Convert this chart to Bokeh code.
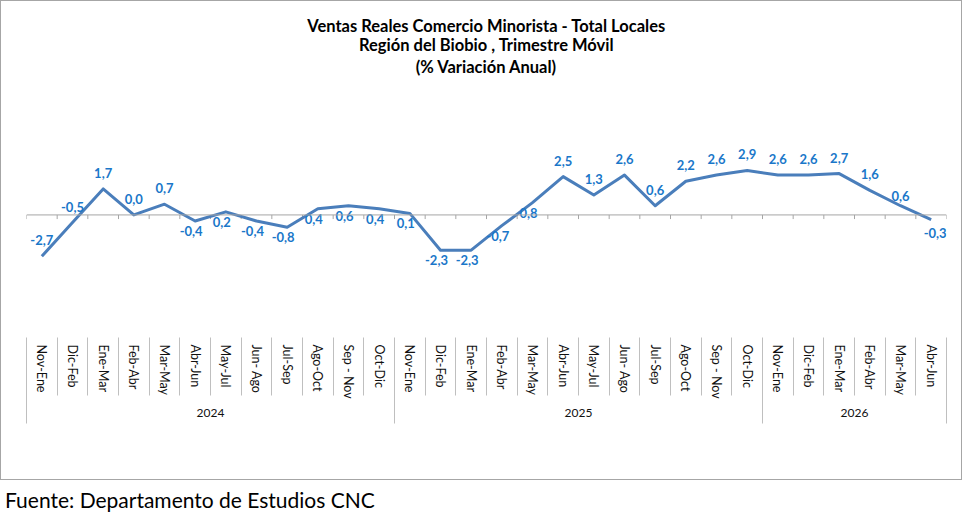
from bokeh.plotting import figure
from bokeh.models import Range1d, FixedTicker, LinearAxis, Title, Span, Div, ColumnDataSource
from bokeh.layouts import column
from bokeh.embed import file_html
from bokeh.resources import INLINE
from bokeh.core.properties import value

# ---- data ----
periods = ["Nov-Ene", "Dic-Feb", "Ene-Mar", "Feb-Abr", "Mar-May", "Abr-Jun", "May-Jul",
           "Jun- Ago", "Jul-Sep", "Ago-Oct", "Sep - Nov", "Oct-Dic",
           "Nov-Ene", "Dic-Feb", "Ene-Mar", "Feb-Abr", "Mar-May", "Abr-Jun", "May-Jul",
           "Jun- Ago", "Jul-Sep", "Ago-Oct", "Sep - Nov", "Oct-Dic",
           "Nov-Ene", "Dic-Feb", "Ene-Mar", "Feb-Abr", "Mar-May", "Abr-Jun"]
years = ["2024", "2025", "2026"]
year_counts = [12, 12, 6]
values = [-2.7, -0.5, 1.7, 0.0, 0.7, -0.4, 0.2, -0.4, -0.8, 0.4, 0.6, 0.4,
          0.1, -2.3, -2.3, -0.7, 0.8, 2.5, 1.3, 2.6, 0.6, 2.2, 2.6, 2.9,
          2.6, 2.6, 2.7, 1.6, 0.6, -0.3]
# label placement: a = above, c = close above, b = below, r = below right
label_pos = ["a", "a", "a", "a", "a", "b", "b", "b", "b", "b", "b", "b",
             "b", "b", "b", "b", "b", "a", "a", "a", "a", "a", "a", "a",
             "a", "a", "a", "a", "c", "r"]

title_lines = ["Ventas Reales Comercio Minorista - Total Locales",
               "Región del Biobio , Trimestre Móvil",
               "(% Variación Anual)"]
source_text = "Fuente: Departamento de Estudios CNC"

# ---- derived ----
n = len(periods)
xc = [i + 0.5 for i in range(n)]
bounds = [float(i) for i in range(n + 1)]
year_bounds = [0.0]
year_centers = []
acc = 0
for c in year_counts:
    year_centers.append(acc + c / 2)
    acc += c
    year_bounds.append(float(acc))

FONT = "Lato"
LINE_COLOR = "#4A7EBB"
LABEL_COLOR = "#1A77C9"
GRAY = "#A6A6A6"
SEP = "#BFBFBF"

off_map = {"a": (0, -16), "c": (0, -10), "b": (-4, 10), "r": (4, 13)}
xo = [off_map[k][0] for k in label_pos]
yo = [off_map[k][1] for k in label_pos]
labels = [f"{v:.1f}".replace(".", ",") for v in values]

src = ColumnDataSource(dict(x=xc, y=values, t=labels, xo=xo, yo=yo))

p = figure(frame_width=918, frame_height=258,
           x_range=Range1d(0, n), y_range=Range1d(-8.0, 8.97),
           output_backend="svg", toolbar_location=None,
           x_axis_location=None, y_axis_location=None,
           min_border_left=25, min_border_right=17, min_border_top=76,
           min_border_bottom=144)
p.outline_line_color = None
p.xgrid.visible = False
p.ygrid.visible = False
p.background_fill_color = "white"
p.border_fill_color = "white"
p.styles = {"border": "1px solid #A6A6A6"}

for k, line in enumerate(reversed(title_lines)):
    p.add_layout(Title(text=line, align="center", text_font=FONT, text_font_size="16.5px",
                       text_font_style="bold", text_color="black", text_line_height=1.0,
                       standoff=(2 if k == 0 else -3)), "above")

# category axis
ax1 = LinearAxis(ticker=FixedTicker(ticks=xc, minor_ticks=bounds),
                 major_label_overrides={x: lab for x, lab in zip(xc, periods)},
                 major_label_orientation="vertical",
                 major_tick_out=0, major_tick_in=0,
                 minor_tick_out=58, minor_tick_in=0,
                 minor_tick_line_color=SEP, minor_tick_line_width=1,
                 axis_line_color=None, major_label_standoff=-51,
                 major_label_text_font=FONT, major_label_text_font_size="12.5px",
                 major_label_text_color="#111111")
p.add_layout(ax1, "below")

# year axis
ax2 = LinearAxis(ticker=FixedTicker(ticks=year_centers, minor_ticks=year_bounds),
                 major_label_overrides={x: y for x, y in zip(year_centers, years)},
                 major_tick_out=0, major_tick_in=0,
                 minor_tick_in=62, minor_tick_out=22,
                 minor_tick_line_color=SEP, minor_tick_line_width=1,
                 axis_line_color=None, major_label_standoff=-15,
                 major_label_text_font=FONT, major_label_text_font_size="12px",
                 major_label_text_color="#111111")
p.add_layout(ax2, "below")

# zero line with small ticks
p.add_layout(Span(location=0, dimension="width", line_color=GRAY, line_width=1))
p.segment(x0=bounds, y0=[0] * len(bounds), x1=bounds, y1=[-0.27] * len(bounds),
          line_color=GRAY, line_width=1)

p.line("x", "y", source=src, line_color=LINE_COLOR, line_width=3, line_join="round")
p.text("x", "y", text="t", source=src, x_offset="xo", y_offset="yo",
       text_font=value(FONT), text_font_size="13px", text_font_style="bold",
       text_color=LABEL_COLOR, text_align="center", text_baseline="middle")

foot = Div(text=f'<div style="font-family:Lato;font-size:21px;color:#000;padding-top:0px;">{source_text}</div>',
           width=960, height=28)

layout = column(p, foot, spacing=0)
open("out.html", "w").write(file_html(layout, INLINE))
